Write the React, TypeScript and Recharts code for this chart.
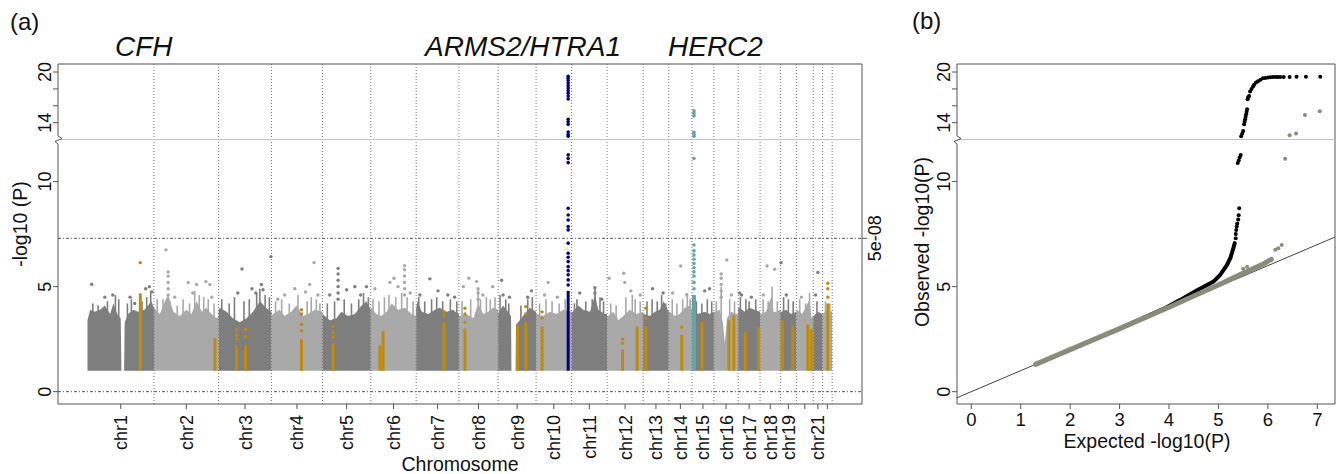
import React from 'react'
import {
  Area,
  ComposedChart,
  Line,
  ReferenceArea,
  ReferenceLine,
  Scatter,
  XAxis,
  YAxis,
} from 'recharts'

const FONT = '"Liberation Sans", Arial, Helvetica, sans-serif'
const DARK = '#7e7e7e'
const LIGHT = '#a9a9a9'
const HIT = '#c08b0a'
const NAVY = '#00008b'
const TEAL = '#62a6a6'
const QQ_GREY = '#8b8b7b'

// broken y axis: everything above 12 is squeezed
const BREAK = 12
const UPPER = 0.4016
const toAxis = (v: number) => (v <= BREAK ? v : BREAK + (v - BREAK) * UPPER)
const Y_DOMAIN = [-0.586, 15.595]
const yTicks = [0, 5, 10, 14, 16, 18, 20]
const yLabelled = [0, 5, 10, 14, 20]
const GWS = 7.3 // -log10(5e-08)

// chromosomes and the span (Mb) covered by SNPs
const chrNames = Array.from({ length: 22 }, (_, i) => 'chr' + (i + 1))
const chrSpan = [249, 242, 198, 191, 181, 170, 160, 147, 142, 133, 133, 135, 96, 87, 82, 91, 82, 76, 60, 63, 35, 36]
const hiddenChrLabels = ['chr20', 'chr22']

// top of the dense point cloud, [percent along chromosome, -log10 P]
const cloudTops: number[][][] = [
  [[0, 3.4], [4, 3.9], [11, 3.8], [19, 3.9], [26, 4.1], [34, 3.7], [39, 4.2], [46, 3.6], [50, 3.5], [51, 1], [55, 1], [56, 3.3], [61, 3.7], [69, 3.9], [76, 3.8], [86, 3.9], [91, 4.1], [96, 4.3], [100, 4.0]],
  [[0, 4.0], [9, 3.7], [17, 4.3], [22, 4.6], [30, 3.8], [40, 3.6], [50, 3.9], [58, 3.7], [66, 4.3], [74, 3.8], [81, 4.0], [89, 3.7], [97, 3.5], [100, 3.6]],
  [[0, 3.9], [2.5, 4.0], [15, 3.8], [27, 3.5], [40, 3.3], [53, 3.5], [65, 3.8], [78, 4.3], [90, 4.0], [94, 3.9], [100, 3.8]],
  [[0, 3.6], [3, 3.7], [16, 3.9], [26, 3.6], [39, 3.8], [49, 4.1], [62, 3.6], [72, 3.7], [85, 3.9], [100, 3.8]],
  [[0, 3.7], [5, 3.6], [15, 3.4], [29, 3.5], [39, 3.8], [53, 3.6], [67, 3.7], [81, 4.1], [91, 4.3], [100, 3.9]],
  [[0, 3.9], [1.5, 4.0], [12, 3.7], [23, 3.6], [35, 3.8], [46, 4.2], [60, 3.9], [75, 4.0], [90, 3.7], [100, 3.6]],
  [[0, 4.0], [3, 4.3], [13, 3.8], [28, 3.7], [44, 3.9], [55, 4.0], [71, 3.8], [87, 3.9], [91, 3.8], [100, 3.7]],
  [[0, 3.6], [2.5, 3.6], [19, 3.7], [37, 3.5], [49, 4.2], [62, 3.7], [75, 3.8], [87, 4.0], [100, 3.9]],
  [[0, 3.7], [2, 3.8], [13, 4.1], [26, 3.8], [34, 3.6], [35, 1], [46, 1], [47, 3.2], [57, 3.4], [70, 3.7], [83, 4.0], [100, 3.8]],
  [[0, 3.7], [3, 3.7], [20, 3.6], [39, 3.8], [58, 3.7], [76, 3.9], [100, 3.8]],
  [[0, 3.8], [3, 3.8], [19, 4.1], [33, 3.9], [52, 3.8], [66, 4.6], [75, 3.9], [94, 3.7], [100, 3.7]],
  [[0, 3.6], [3, 3.6], [17, 3.8], [31, 3.4], [45, 3.6], [63, 3.9], [82, 3.7], [100, 3.8]],
  [[0, 3.7], [3, 3.7], [26, 3.6], [46, 3.8], [65, 3.9], [80, 4.3], [100, 3.8]],
  [[0, 3.8], [4, 3.8], [26, 3.6], [47, 3.7], [69, 4.0], [90, 4.1], [100, 3.9]],
  [[0, 3.9], [5, 3.9], [27, 3.7], [58, 3.8], [80, 3.7], [100, 3.8]],
  [[0, 3.8], [4, 3.8], [23, 3.9], [37, 3.3], [45, 2.3], [54, 3.5], [71, 3.8], [92, 3.7], [100, 3.7]],
  [[0, 4.0], [6, 4.0], [29, 3.8], [51, 4.0], [74, 3.9], [100, 3.8]],
  [[0, 3.7], [5, 3.7], [30, 3.8], [59, 4.6], [66, 3.8], [79, 3.8], [100, 3.9]],
  [[0, 3.8], [7, 3.8], [35, 3.9], [67, 3.7], [100, 3.8]],
  [[0, 3.9], [4, 3.9], [34, 3.7], [54, 4.0], [78, 4.4], [90, 3.5], [100, 3.6]],
  [[0, 3.6], [4, 3.6], [51, 3.8], [100, 3.7]],
  [[0, 3.7], [3, 3.7], [48, 3.9], [100, 3.8]],
]

// thin streaks of SNPs rising out of the cloud: [chr, percent, top]
const streaks: number[][] = [
  [1, 8, 4.2], [1, 16, 4.1], [1, 30, 4.3], [1, 42, 4.6], [1, 47, 4.4], [1, 60, 4.2], [1, 66, 4.4], [1, 82, 4.3], [1, 89, 4.5], [1, 95, 4.8],
  [2, 5, 4.4], [2, 14, 4.4], [2, 25, 4.3], [2, 36, 4.1], [2, 45, 4.4], [2, 55, 4.2], [2, 63, 4.8], [2, 70, 4.6], [2, 77, 4.5], [2, 84, 4.4], [2, 93, 4.2],
  [3, 6, 4.4], [3, 20, 4.2], [3, 30, 4.5], [3, 48, 4.3], [3, 58, 4.4], [3, 72, 4.7], [3, 78, 4.9], [3, 88, 4.6], [3, 96, 4.5],
  [4, 8, 4.3], [4, 20, 4.4], [4, 35, 4.2], [4, 52, 4.6], [4, 70, 4.3], [4, 78, 4.5], [4, 88, 4.4], [4, 95, 4.2],
  [5, 10, 4.2], [5, 25, 4.3], [5, 45, 4.4], [5, 60, 4.2], [5, 75, 4.4], [5, 85, 4.7], [5, 95, 4.5],
  [6, 5, 4.4], [6, 18, 4.3], [6, 30, 4.5], [6, 40, 4.6], [6, 55, 4.5], [6, 68, 4.7], [6, 80, 4.5], [6, 93, 4.3],
  [7, 6, 4.5], [7, 20, 4.3], [7, 36, 4.4], [7, 48, 4.5], [7, 62, 4.3], [7, 80, 4.4], [7, 95, 4.3],
  [8, 8, 4.3], [8, 30, 4.4], [8, 49, 4.9], [8, 55, 4.4], [8, 70, 4.5], [8, 80, 4.4], [8, 92, 4.5],
  [9, 5, 4.6], [9, 20, 4.4], [9, 28, 4.2], [9, 60, 4.1], [9, 78, 4.4], [9, 90, 4.5],
  [10, 10, 4.2], [10, 28, 4.4], [10, 45, 4.3], [10, 65, 4.2], [10, 82, 4.4],
  [11, 8, 4.2], [11, 15, 4.4], [11, 40, 4.3], [11, 58, 4.4], [11, 66, 5.0], [11, 80, 4.5], [11, 90, 4.3],
  [12, 10, 4.2], [12, 25, 4.1], [12, 52, 4.5], [12, 70, 4.6], [12, 78, 4.4], [12, 92, 4.3],
  [13, 15, 4.3], [13, 35, 4.4], [13, 55, 4.3], [13, 72, 4.6], [13, 88, 4.2],
  [14, 15, 4.4], [14, 35, 4.2], [14, 60, 4.4], [14, 80, 4.7], [14, 92, 4.4],
  [15, 20, 4.3], [15, 45, 4.2], [15, 70, 4.4], [15, 90, 4.3],
  [16, 10, 4.3], [16, 30, 5.0], [16, 65, 4.4], [16, 85, 4.3],
  [17, 10, 4.5], [17, 35, 4.4], [17, 50, 4.3], [17, 80, 4.4],
  [18, 15, 4.4], [18, 40, 4.3], [18, 59, 5.0], [18, 85, 4.3],
  [19, 20, 4.5], [19, 50, 4.4], [19, 80, 4.3],
  [20, 20, 4.4], [20, 55, 4.2], [20, 78, 4.7],
  [21, 40, 4.3],
  [22, 30, 4.3], [22, 75, 4.2],
]

// scattered SNPs above the cloud: [chr, percent, -log10 P]
const looseSnps: number[][] = [
  [1, 6.3, 5.11], [1, 64, 4.5], [1, 71, 4.2], [1, 87.5, 4.9], [1, 97, 4.75], [1, 38, 4.6], [1, 26, 4.5], [1, 93, 5.0],
  [2, 18.5, 6.75], [2, 22, 4.6], [2, 22, 4.9], [2, 22, 5.2], [2, 22, 5.5], [2, 22, 5.7], [2, 65.9, 5.1], [2, 80.3, 5.24], [2, 86.6, 5.1], [2, 32, 4.5], [2, 53, 5.2], [2, 89.6, 4.5], [2, 60, 4.7],
  [3, 44.2, 5.84], [3, 99, 6.43], [3, 81, 5.1], [3, 63, 4.9], [3, 36.4, 4.7], [3, 70.4, 4.7], [3, 84, 4.85],
  [4, 83.5, 6.14], [4, 45.7, 4.9], [4, 26, 4.6], [4, 67, 4.75], [4, 75, 5.1], [4, 12.4, 4.4], [4, 91, 4.6],
  [5, 32.3, 4.4], [5, 32.3, 4.7], [5, 32.3, 5.0], [5, 32.3, 5.3], [5, 32.3, 5.6], [5, 32.3, 5.87], [5, 15, 4.6], [5, 50, 4.85], [5, 67, 5.0], [5, 91, 5.0], [5, 79, 4.6],
  [6, 74.4, 4.6], [6, 74.4, 4.9], [6, 74.4, 5.2], [6, 74.4, 5.5], [6, 74.4, 5.8], [6, 74.4, 6.0], [6, 51, 5.4], [6, 42, 5.2], [6, 60, 5.0], [6, 9, 4.9], [6, 86.8, 4.7],
  [7, 32, 5.37], [7, 51, 4.8], [7, 74, 4.6], [7, 8.6, 4.6], [7, 90, 4.5],
  [8, 45, 5.24], [8, 25.4, 5.4], [8, 11, 5.0], [8, 49, 4.4], [8, 49, 4.7], [8, 49, 4.9], [8, 86, 5.0], [8, 61, 4.6],
  [9, 9, 5.3], [9, 13, 4.6], [9, 88, 4.8], [9, 78, 4.5], [9, 30, 4.5],
  [10, 34, 5.2], [10, 24, 4.6], [10, 60, 4.5],
  [11, 23, 4.7], [11, 65.5, 4.7], [11, 65.5, 4.95], [11, 85, 4.4],
  [12, 46, 5.64], [12, 49, 5.2], [12, 5.5, 5.4], [12, 92, 4.6], [12, 66, 4.8],
  [13, 36.6, 4.9], [13, 78, 4.7],
  [14, 51.5, 5.98], [14, 17, 4.7], [14, 77, 4.6],
  [15, 58, 4.8], [15, 80, 4.9],
  [16, 30, 4.5], [16, 30, 4.8], [16, 30, 5.1], [16, 30, 5.4], [16, 30, 5.6], [16, 53, 6.27], [16, 72, 4.6],
  [17, 6, 4.7], [17, 15, 4.6], [17, 60, 4.5],
  [18, 34.5, 5.98], [18, 72, 5.83], [18, 16, 4.6],
  [19, 4.4, 6.14], [19, 37, 4.6],
  [20, 30, 4.5],
  [21, 49.5, 5.67], [21, 25, 4.6],
]

// known AMD loci highlighted in gold: [chr, percent, solid top, extra points]
const knownLoci: [number, number, number, number[]][] = [
  [1, 79.4, 4.68, [6.14]],
  [2, 94.3, 2.54, []],
  [3, 34, 2.2, [2.5, 2.7, 2.94]],
  [3, 51, 2.2, [2.6, 2.97]],
  [4, 58.8, 2.5, [2.9, 3.2, 3.7, 3.9]],
  [5, 22, 2.3, [2.6, 2.8, 3.1]],
  [6, 20, 2.2, []],
  [6, 27, 2.89, []],
  [7, 65, 3.3, [3.6, 3.8]],
  [8, 15.3, 3.0, [3.3, 3.7, 3.97]],
  [9, 51, 3.18, []],
  [9, 73, 3.3, [3.7, 4.05]],
  [10, 17, 3.1, [3.5, 3.8]],
  [12, 42.7, 2.0, [2.3, 2.5]],
  [12, 83.3, 3.1, []],
  [13, 10.5, 3.1, [3.5, 3.97]],
  [14, 55.8, 2.7, [3.07]],
  [15, 45.5, 3.33, []],
  [16, 61.5, 3.4, []],
  [16, 82, 3.63, []],
  [17, 32, 2.83, []],
  [17, 93.6, 3.06, []],
  [19, 10.6, 3.4, []],
  [19, 77, 3.17, []],
  [20, 67.7, 3.2, []],
  [20, 88, 2.97, []],
  [22, 54.6, 4.2, [4.5, 4.9, 5.16]],
]

// ARMS2/HTRA1 (chr10) and HERC2 (chr15) signals
const armsLocus = { chr: 10, pct: 90.4, solid: 4.8 }
const armsPoints = [5.08, 5.32, 5.56, 5.76, 5.95, 6.19, 6.4, 6.59, 7.07, 7.7, 7.86, 8.17, 8.41, 8.73, 10.9, 11.1, 11.27, 12.4, 12.6, 12.9, 13.8, 14.1, 14.4, 16.8, 17.15, 17.5, 17.8, 18.1, 18.4, 18.7, 19.0, 19.25, 19.5]
const hercLocus = { chr: 15, pct: 9, solid: 4.6 }
const hercPoints = [4.9, 5.2, 5.5, 5.7, 5.9, 6.1, 6.3, 6.5, 6.7, 6.98, 11.1, 12.4, 12.6, 12.85, 14.8, 15.1, 15.4]

// QQ plot: [expected, observed]
const qqAllBand = [[3.0, 3.0], [3.9, 3.95], [4.23, 4.37], [4.56, 4.82], [4.9, 5.24], [5.03, 5.54], [5.17, 6.02], [5.24, 6.35], [5.31, 6.9], [5.33, 7.07]]
const qqAllPoints = [
  [5.35, 7.3], [5.35, 7.5], [5.36, 7.7], [5.37, 7.86], [5.38, 8.0], [5.4, 8.2], [5.41, 8.4], [5.42, 8.73],
  [5.39, 10.88], [5.41, 11.0], [5.43, 11.15], [5.45, 11.27], [5.46, 12.4], [5.48, 12.7], [5.5, 13.0],
  [5.52, 13.8], [5.53, 14.1], [5.54, 14.4], [5.55, 14.7], [5.56, 15.0], [5.57, 15.3], [5.58, 15.6],
  [5.59, 16.76], [5.6, 17.0], [5.62, 17.15], [5.64, 17.7], [5.67, 18.0], [5.7, 18.3], [5.72, 18.5],
  [5.76, 18.75], [5.8, 18.9], [5.85, 19.1], [5.9, 19.25], [5.95, 19.3], [6.0, 19.35], [6.05, 19.38],
  [6.1, 19.4], [6.15, 19.4], [6.2, 19.4], [6.25, 19.4], [6.32, 19.42], [6.44, 19.42], [6.58, 19.45],
  [6.77, 19.45], [7.06, 19.45],
]
const qqNoKnownBand = [[1.3, 1.3], [2, 2], [3, 3], [4, 4.02], [4.5, 4.55], [5.0, 5.08], [5.44, 5.58], [5.91, 6.08], [6.07, 6.3]]
const qqNoKnownPoints = [[5.5, 5.85], [5.58, 5.95], [6.15, 6.75], [6.21, 6.83], [6.28, 6.98], [6.35, 11.08], [6.44, 12.5], [6.57, 12.73], [6.75, 14.9], [7.05, 15.34]]
const qqTicks = [0, 1, 2, 3, 4, 5, 6, 7]

// ---- derived positions ----
const chrStart: number[] = []
chrSpan.reduce((acc, s, i) => {
  chrStart[i] = acc
  return acc + s
}, 0)
const genomeEnd = chrStart[21] + chrSpan[21]
const chrMid = chrSpan.map((s, i) => chrStart[i] + s / 2)
const posOf = (chr: number, pct: number) => chrStart[chr - 1] + (chrSpan[chr - 1] * pct) / 100
const chrColor = (chr: number) => (chr % 2 === 1 ? DARK : LIGHT)
const X_DOMAIN = [-110.5, 2900.7]
const QQ_X_DOMAIN = [-0.289, 7.358]
const STREAK_BASE = 3.3

const dot = (r: number, fill: string) => (p: any) => {
  const cx = p.cx ?? p.x + (p.width || 0) / 2
  const cy = p.cy ?? p.y + (p.height || 0) / 2
  return <circle cx={cx} cy={cy} r={r} fill={fill} />
}

const fromAxis = (v: number) => Math.round(v <= BREAK ? v : BREAK + (v - BREAK) / UPPER)

const LeftTick = (props: any) => {
  const { x, y, payload } = props
  const v = fromAxis(payload.value)
  if (!yLabelled.includes(v)) return <g />
  const cx = x - 6.5
  return (
    <text x={cx} y={y} dy='0.36em' textAnchor='middle' fontSize={18} fontFamily={FONT} fill='#111' transform={`rotate(-90 ${cx} ${y})`}>
      {v}
    </text>
  )
}

const RightTick = (props: any) => {
  const { x, y } = props
  const cx = x + 6
  return (
    <text x={cx} y={y} dy='0.36em' textAnchor='middle' fontSize={18} fontFamily={FONT} fill='#111' transform={`rotate(-90 ${cx} ${y})`}>
      5e-08
    </text>
  )
}

const ChrTick = (props: any) => {
  const { x, y, payload } = props
  const i = chrMid.indexOf(payload.value)
  const name = chrNames[i]
  if (!name || hiddenChrLabels.includes(name)) return <g />
  const ty = y + 4
  return (
    <text x={x} y={ty} dy='0.36em' textAnchor='end' fontSize={18} fontFamily={FONT} fill='#111' transform={`rotate(-90 ${x} ${ty})`}>
      {name}
    </text>
  )
}

const QQTick = (props: any) => {
  const { x, y, payload } = props
  return (
    <text x={x} y={y + 15} textAnchor='middle' fontSize={18.5} fontFamily={FONT} fill='#111'>
      {payload.value}
    </text>
  )
}

const toXY = (pairs: number[][]) => pairs.map(([x, y]) => ({ x, y: toAxis(y) }))

function Manhattan() {
  const darkLoose = looseSnps.filter((s) => s[0] % 2 === 1).map(([c, p, v]) => ({ x: posOf(c, p), y: toAxis(v) }))
  const lightLoose = looseSnps.filter((s) => s[0] % 2 === 0).map(([c, p, v]) => ({ x: posOf(c, p), y: toAxis(v) }))
  const lociPoints = knownLoci.flatMap(([c, p, , extra]) => extra.map((v) => ({ x: posOf(c, p), y: toAxis(v) })))
  const armsX = posOf(armsLocus.chr, armsLocus.pct)
  const hercX = posOf(hercLocus.chr, hercLocus.pct)
  const boundaries = [...chrStart.slice(1), genomeEnd]

  return (
    <ComposedChart width={900} height={474} margin={{ top: 64, right: 8, bottom: 8, left: 8 }}>
      <XAxis
        xAxisId='x'
        type='number'
        dataKey='x'
        domain={X_DOMAIN}
        allowDataOverflow
        ticks={chrMid}
        interval={0}
        tick={<ChrTick />}
        tickSize={5}
        tickLine={{ stroke: '#555' }}
        axisLine={false}
        height={62}
      />
      <YAxis
        yAxisId='l'
        type='number'
        dataKey='y'
        domain={Y_DOMAIN}
        allowDataOverflow
        ticks={yTicks.map(toAxis)}
        interval={0}
        tick={<LeftTick />}
        tickSize={5}
        tickLine={{ stroke: '#555' }}
        axisLine={false}
        width={50}
      />
      <YAxis
        yAxisId='r'
        orientation='right'
        type='number'
        domain={Y_DOMAIN}
        allowDataOverflow
        ticks={[GWS]}
        interval={0}
        tick={<RightTick />}
        tickSize={5}
        tickLine={{ stroke: '#555' }}
        axisLine={false}
        width={30}
      />

      {boundaries.map((b) => (
        <ReferenceLine key={'b' + b} xAxisId='x' yAxisId='l' x={b} stroke='#777' strokeDasharray='1 2' />
      ))}
      <ReferenceLine xAxisId='x' yAxisId='l' y={toAxis(BREAK)} stroke='#c4c4c4' />
      <ReferenceLine xAxisId='x' yAxisId='l' y={0} stroke='#555' strokeDasharray='3 2 1 2' />
      <ReferenceLine xAxisId='x' yAxisId='l' y={GWS} stroke='#555' strokeDasharray='3 2 1 2' />

      {cloudTops.map((tops, i) => (
        <Area
          key={'c' + i}
          xAxisId='x'
          yAxisId='l'
          data={tops.map(([p, t]) => ({ x: posOf(i + 1, p), y: t }))}
          dataKey='y'
          type='linear'
          baseValue={1}
          stroke='none'
          fill={chrColor(i + 1)}
          fillOpacity={1}
          dot={false}
          activeDot={false}
          isAnimationActive={false}
        />
      ))}

      {streaks.map(([c, p, top], i) => (
        <Line
          key={'s' + i}
          xAxisId='x'
          yAxisId='l'
          data={[{ x: posOf(c, p), y: STREAK_BASE }, { x: posOf(c, p), y: top }]}
          dataKey='y'
          stroke={chrColor(c)}
          strokeWidth={1.6}
          dot={false}
          activeDot={false}
          isAnimationActive={false}
        />
      ))}

      <Scatter xAxisId='x' yAxisId='l' data={darkLoose} shape={dot(1.7, DARK)} isAnimationActive={false} />
      <Scatter xAxisId='x' yAxisId='l' data={lightLoose} shape={dot(1.7, LIGHT)} isAnimationActive={false} />

      {knownLoci.map(([c, p, solid], i) => (
        <Line
          key={'k' + i}
          xAxisId='x'
          yAxisId='l'
          data={[{ x: posOf(c, p), y: 1 }, { x: posOf(c, p), y: solid }]}
          dataKey='y'
          stroke={HIT}
          strokeWidth={3}
          dot={false}
          activeDot={false}
          isAnimationActive={false}
        />
      ))}
      <Scatter xAxisId='x' yAxisId='l' data={lociPoints} shape={dot(1.7, HIT)} isAnimationActive={false} />

      <Line
        xAxisId='x'
        yAxisId='l'
        data={[{ x: armsX, y: 1 }, { x: armsX, y: armsLocus.solid }]}
        dataKey='y'
        stroke={NAVY}
        strokeWidth={3}
        dot={false}
        activeDot={false}
        isAnimationActive={false}
      />
      <Scatter xAxisId='x' yAxisId='l' data={armsPoints.map((v) => ({ x: armsX, y: toAxis(v) }))} shape={dot(1.8, NAVY)} isAnimationActive={false} />
      <Line
        xAxisId='x'
        yAxisId='l'
        data={[{ x: hercX, y: 1 }, { x: hercX, y: hercLocus.solid }]}
        dataKey='y'
        stroke={TEAL}
        strokeWidth={4}
        dot={false}
        activeDot={false}
        isAnimationActive={false}
      />
      <Scatter xAxisId='x' yAxisId='l' data={hercPoints.map((v) => ({ x: hercX, y: toAxis(v) }))} shape={dot(1.8, TEAL)} isAnimationActive={false} />

      <ReferenceArea
        xAxisId='x'
        yAxisId='l'
        x1={X_DOMAIN[0]}
        x2={X_DOMAIN[1]}
        y1={Y_DOMAIN[0]}
        y2={Y_DOMAIN[1]}
        fill='none'
        fillOpacity={0}
        stroke='#555'
        ifOverflow='visible'
      />
    </ComposedChart>
  )
}

function QQPlot() {
  return (
    <ComposedChart width={456} height={474} margin={{ top: 64, right: 1, bottom: 8, left: 17 }}>
      <XAxis
        type='number'
        dataKey='x'
        domain={QQ_X_DOMAIN}
        allowDataOverflow
        ticks={qqTicks}
        interval={0}
        tick={<QQTick />}
        tickSize={5}
        tickLine={{ stroke: '#555' }}
        axisLine={false}
        height={62}
      />
      <YAxis
        type='number'
        dataKey='y'
        domain={Y_DOMAIN}
        allowDataOverflow
        ticks={yTicks.map(toAxis)}
        interval={0}
        tick={<LeftTick />}
        tickSize={5}
        tickLine={{ stroke: '#555' }}
        axisLine={false}
        width={60}
      />
      <ReferenceLine y={toAxis(BREAK)} stroke='#c4c4c4' />
      <ReferenceLine
        segment={[
          { x: QQ_X_DOMAIN[0], y: QQ_X_DOMAIN[0] },
          { x: QQ_X_DOMAIN[1], y: QQ_X_DOMAIN[1] },
        ]}
        stroke='#444'
        ifOverflow='visible'
      />
      <Line data={toXY(qqAllBand)} dataKey='y' stroke='#000' strokeWidth={4} strokeLinecap='round' dot={false} activeDot={false} isAnimationActive={false} />
      <Scatter data={toXY(qqAllPoints)} shape={dot(2, '#000')} isAnimationActive={false} />
      <Line data={toXY(qqNoKnownBand)} dataKey='y' stroke={QQ_GREY} strokeWidth={5} strokeLinecap='round' dot={false} activeDot={false} isAnimationActive={false} />
      <Scatter data={toXY(qqNoKnownPoints)} shape={dot(2, QQ_GREY)} isAnimationActive={false} />
      <ReferenceArea
        x1={QQ_X_DOMAIN[0]}
        x2={QQ_X_DOMAIN[1]}
        y1={Y_DOMAIN[0]}
        y2={Y_DOMAIN[1]}
        fill='none'
        fillOpacity={0}
        stroke='#555'
        ifOverflow='visible'
      />
    </ComposedChart>
  )
}

const BreakMark = ({ x, y }: { x: number; y: number }) => (
  <g>
    <rect x={x - 2} y={y - 4} width={4} height={8} fill='#fff' />
    <polyline points={`${x},${y - 4} ${x + 4},${y - 1.5} ${x - 3},${y + 1.5} ${x},${y + 4}`} fill='none' stroke='#555' strokeWidth={1} />
  </g>
)

export default function App() {
  return (
    <div style={{ position: 'absolute', left: 0, top: 0, width: 1336, height: 474, background: '#fff', overflow: 'hidden' }}>
      <div style={{ position: 'absolute', left: 0, top: 0 }}>
        <Manhattan />
      </div>
      <div style={{ position: 'absolute', left: 880, top: 0 }}>
        <QQPlot />
      </div>
      <svg width={1336} height={474} style={{ position: 'absolute', left: 0, top: 0, pointerEvents: 'none' }} fontFamily={FONT}>
        <text x={10} y={30} fontSize={24} fill='#111'>(a)</text>
        <text x={912} y={29} fontSize={24} fill='#111'>(b)</text>
        <g fontSize={28} fontStyle='italic' fill='#111'>
          <text x={115} y={56}>CFH</text>
          <text x={425} y={56}>ARMS2/HTRA1</text>
          <text x={668} y={56}>HERC2</text>
        </g>
        <text x={20} y={224} dy='0.36em' textAnchor='middle' fontSize={19.5} fill='#111' transform='rotate(-90 20 224)'>
          -log10 (P)
        </text>
        <text x={460} y={471} textAnchor='middle' fontSize={19.5} fill='#111'>
          Chromosome
        </text>
        <text x={922} y={242} dy='0.36em' textAnchor='middle' fontSize={19.5} fill='#111' transform='rotate(-90 922 242)'>
          Observed -log10(P)
        </text>
        <text x={1147} y={448} textAnchor='middle' fontSize={19.5} fill='#111'>
          Expected -log10(P)
        </text>
        <BreakMark x={58} y={140} />
        <BreakMark x={957} y={140} />
      </svg>
    </div>
  )
}
